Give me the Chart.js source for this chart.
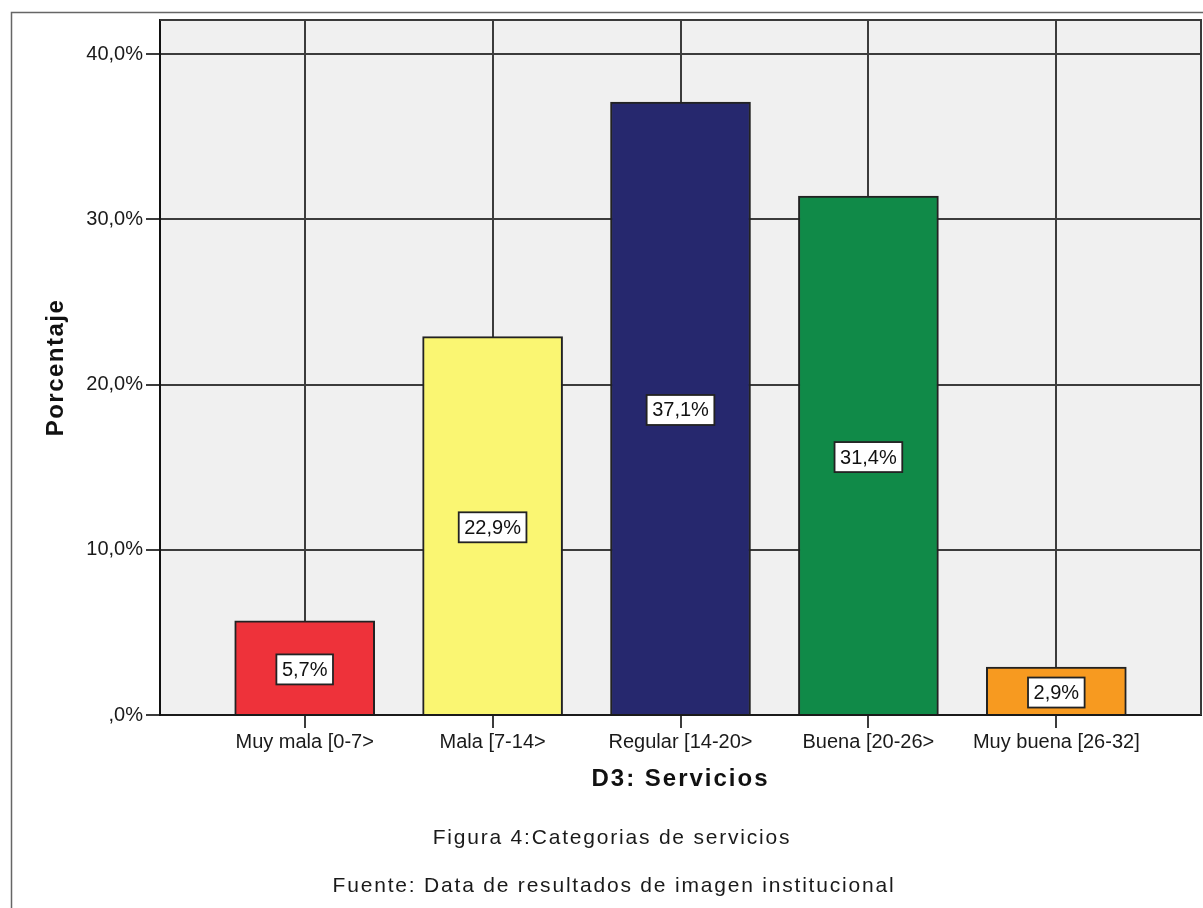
<!DOCTYPE html>
<html>
<head>
<meta charset="utf-8">
<script src="https://cdn.jsdelivr.net/npm/chart.js@4/dist/chart.umd.min.js"></script>
<style>
  html, body { margin: 0; padding: 0; background: #fff; }
  canvas { display: block; }
</style>
</head>
<body>
<canvas id="chart" width="1203" height="908"></canvas>
<script>
// Category labels and percentages for dimension D3
const categories = ['Muy mala [0-7>', 'Mala [7-14>', 'Regular [14-20>', 'Buena [20-26>', 'Muy buena [26-32]'];
const percentages = [5.7, 22.9, 37.1, 31.4, 2.9];
const barColors = ['#EE323A', '#FAF672', '#26286E', '#108A48', '#F79A20'];
const yTicks = [0, 10, 20, 30, 40];
const xTitle = 'D3: Servicios';
const yTitle = 'Porcentaje';
const captions = ['Figura 4:Categorias de servicios', 'Fuente: Data de resultados de imagen institucional'];

const FONT = '"Liberation Sans", Arial, sans-serif';
const fmt = v => v === 0 ? ',0%' : v.toFixed(1).replace('.', ',') + '%';

// Outer frame, plot background and plot border
const framePlugin = {
  id: 'frame',
  beforeDraw(chart) {
    const { ctx, chartArea: a } = chart;
    ctx.save();
    ctx.strokeStyle = '#666';
    ctx.lineWidth = 1.5;
    ctx.beginPath();
    ctx.moveTo(11.5, 908);
    ctx.lineTo(11.5, 12.5);
    ctx.lineTo(1203, 12.5);
    ctx.stroke();
    ctx.fillStyle = '#F0F0F0';
    ctx.fillRect(a.left, a.top, a.right - a.left, a.bottom - a.top);
    ctx.restore();
  },
  afterDraw(chart) {
    const { ctx, chartArea: a } = chart;
    ctx.save();
    ctx.strokeStyle = '#3a3a3a';
    ctx.lineWidth = 2;
    ctx.beginPath();
    ctx.moveTo(a.left, a.top);
    ctx.lineTo(a.right, a.top);
    ctx.lineTo(a.right, a.bottom);
    ctx.stroke();
    ctx.restore();
  }
};

// Boxed value labels at the middle of each bar
const valueLabels = {
  id: 'valueLabels',
  afterDatasetsDraw(chart) {
    const { ctx } = chart;
    const meta = chart.getDatasetMeta(0);
    ctx.save();
    ctx.font = '20px ' + FONT;
    ctx.textAlign = 'center';
    ctx.textBaseline = 'middle';
    meta.data.forEach((bar, i) => {
      const text = fmt(percentages[i]);
      const cy = (bar.y + bar.base) / 2 + 2;
      const w = ctx.measureText(text).width + 11;
      const h = 30;
      ctx.fillStyle = '#fff';
      ctx.fillRect(bar.x - w / 2, cy - h / 2, w, h);
      ctx.strokeStyle = '#222';
      ctx.lineWidth = 1.8;
      ctx.strokeRect(bar.x - w / 2, cy - h / 2, w, h);
      ctx.fillStyle = '#111';
      ctx.fillText(text, bar.x, cy + 1);
    });
    ctx.restore();
  }
};

// Axis titles and figure captions
const titles = {
  id: 'titles',
  afterDraw(chart) {
    const { ctx, chartArea: a } = chart;
    ctx.save();
    ctx.fillStyle = '#111';
    ctx.textAlign = 'center';
    ctx.textBaseline = 'middle';
    ctx.font = 'bold 24px ' + FONT;
    ctx.letterSpacing = '2px';
    ctx.fillText(xTitle, (a.left + a.right) / 2, 779);
    ctx.save();
    ctx.translate(56, (a.top + a.bottom) / 2);
    ctx.rotate(-Math.PI / 2);
    ctx.letterSpacing = '1.5px';
    ctx.fillText(yTitle, 0, 0);
    ctx.restore();
    ctx.font = '21px ' + FONT;
    ctx.letterSpacing = '1.8px';
    ctx.fillStyle = '#1a1a1a';
    ctx.fillText(captions[0], 612, 838);
    ctx.fillText(captions[1], 614, 886);
    ctx.restore();
  }
};

new Chart(document.getElementById('chart'), {
  type: 'bar',
  data: {
    datasets: [{
      data: percentages.map((v, i) => ({ x: i, y: v })),
      backgroundColor: barColors,
      borderColor: '#222',
      borderWidth: 2,
      barThickness: 140
    }]
  },
  options: {
    responsive: false,
    animation: false,
    devicePixelRatio: 1,
    layout: { padding: { left: 0, top: 20, right: 2, bottom: 0 } },
    plugins: { legend: { display: false }, tooltip: { enabled: false } },
    scales: {
      x: {
        type: 'linear',
        min: -0.77,
        max: 4.77,
        offset: false,
        afterBuildTicks: s => { s.ticks = categories.map((_, i) => ({ value: i })); },
        afterFit: s => { s.height = 193; },
        ticks: {
          callback: v => categories[v],
          color: '#1a1a1a',
          font: { family: FONT, size: 20 },
          padding: 2,
          maxRotation: 0,
          autoSkip: false
        },
        grid: { color: '#3c3c3c', lineWidth: 2, tickLength: 13, offset: false },
        border: { display: true, color: '#1a1a1a', width: 2 }
      },
      y: {
        min: 0,
        max: 42.06,
        afterBuildTicks: s => { s.ticks = yTicks.map(v => ({ value: v })); },
        afterFit: s => { s.width = 160; },
        ticks: {
          callback: v => fmt(v),
          color: '#1a1a1a',
          font: { family: FONT, size: 20 },
          padding: 3
        },
        grid: { color: '#3c3c3c', lineWidth: 2, tickLength: 14 },
        border: { display: true, color: '#111', width: 2 }
      }
    }
  },
  plugins: [framePlugin, valueLabels, titles]
});
</script>
</body>
</html>
